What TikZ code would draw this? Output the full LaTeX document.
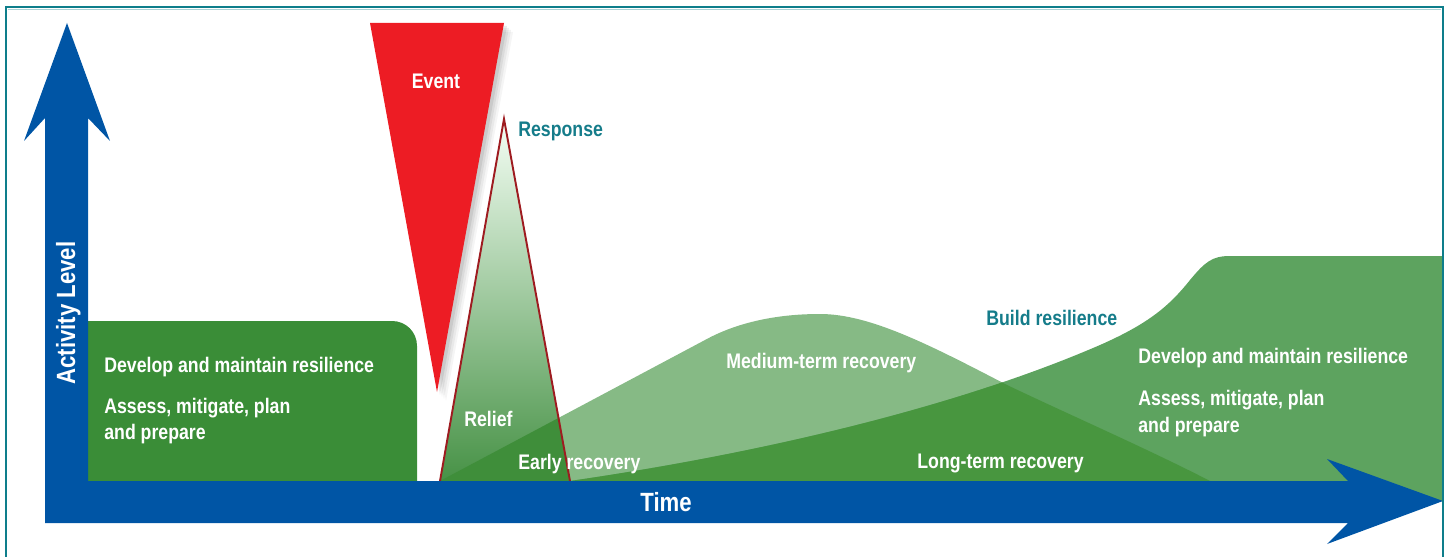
\documentclass[tikz,border=0pt]{standalone}
\usepackage{fontspec}
\newfontfamily\condfont[FakeStretch=0.84]{Liberation Sans}
\usetikzlibrary{calc}

\definecolor{axisblue}{HTML}{0055A5}
\definecolor{frameteal}{HTML}{0E7E8B}
\definecolor{boxgreen}{HTML}{3A8D37}
\definecolor{longgreen}{HTML}{5DA35F}
\definecolor{midgreen}{HTML}{86BA85}
\definecolor{overgreen}{HTML}{48963F}
\definecolor{trigreen}{HTML}{3F8E3A}
\definecolor{eventred}{HTML}{ED1C24}
\definecolor{respred}{HTML}{9E1B20}
\definecolor{labelteal}{HTML}{157C8A}

\begin{document}
\begin{tikzpicture}[x=0.02cm,y=-0.02cm]
    \tikzstyle{lbl}=[inner sep=0pt, anchor=base west, text=white, font=\condfont\bfseries\fontsize{12}{14}\selectfont]
    \tikzstyle{tlbl}=[lbl, text=labelteal]
    \tikzstyle{axislbl}=[lbl, anchor=base, font=\condfont\bfseries\fontsize{15}{18}\selectfont]

    \useasboundingbox (0,0) rectangle (1453,557);

    % recovery curves
    \def\midpath{(440,481) -- (705,340) .. controls (745,318) and (790,314) .. (820,314) .. controls (870,314) and (930,345) .. (1007,385) .. controls (1070,415) and (1150,450) .. (1210,481) -- cycle}
    \def\longpath{(570,481) .. controls (750,455) and (950,410) .. (1100,345) .. controls (1150,323) and (1170,305) .. (1190,280) .. controls (1205,262) and (1212,256) .. (1230,256) -- (1443,256) -- (1443,501) -- (570,501) -- cycle}
    \def\resppath{(440,481) -- (504,119) -- (570,481) -- cycle}

    \fill[midgreen] \midpath;
    \fill[longgreen] \longpath;
    \begin{scope}
      \clip \midpath;
      \fill[overgreen] \longpath;
    \end{scope}

    % response spike
    \shade[top color=black!3!green!4!white, bottom color=green!40!black!70!white!70!boxgreen] \resppath;
    \begin{scope}
      \clip \resppath;
      \fill[trigreen] \midpath;
    \end{scope}
    \draw[respred, line width=1.1pt] (440,481) -- (504,119) -- (570,481);

    % event
    \foreach \d/\o in {9/0.04,7/0.05,5/0.06,3/0.08} {
      \fill[black, opacity=\o] (370+\d,23+\d) -- (504+\d,23+\d) -- (437+\d,392+\d) -- cycle;
    }
    \fill[eventred] (370,23) -- (504,23) -- (437,392) -- cycle;

    % before the event
    \fill[boxgreen] (88,481) -- (88,321) -- (392,321) .. controls (406,321) and (417,332) .. (417,346) -- (417,481) -- cycle;

    % axes
    \fill[axisblue] (45,523) -- (45,118) -- (24,141) -- (67,23) -- (110,141) -- (88,118) -- (88,481) -- (1348,481) -- (1327,459) -- (1443,501) -- (1327,544) -- (1348,523) -- cycle;

    % frame
    \draw[frameteal, line width=1.5pt] (6,557) -- (6,7) -- (1443,7) -- (1443,557);
    \draw[frameteal!35!white, line width=0.5pt] (8,9.5) -- (1441,9.5);

    \node[lbl] (dev1) at (104,372) {Develop and maintain resilience};
    \node[lbl] (ass1) at (104,413) {Assess, mitigate, plan};
    \node[lbl] (prep1) at (104,439) {and prepare};
    \node[lbl, anchor=base] (event) at (436,89) {Event};
    \node[tlbl] (resp) at (518,137) {Response};
    \node[lbl] (relief) at (464,426) {Relief};
    \node[lbl] (early) at (518,469) {Early recovery};
    \node[lbl] (medium) at (726,368) {Medium-term recovery};
    \node[tlbl] (build) at (986,325) {Build resilience};
    \node[lbl] (long) at (917,468) {Long-term recovery};
    \node[lbl] (dev2) at (1138,363) {Develop and maintain resilience};
    \node[lbl] (ass2) at (1138,405) {Assess, mitigate, plan};
    \node[lbl] (prep2) at (1138,432) {and prepare};
    \node[axislbl] (time) at (666,511) {Time};
    \node[axislbl, rotate=90] (activity) at (75,313) {Activity Level};

\end{tikzpicture}
\end{document}
